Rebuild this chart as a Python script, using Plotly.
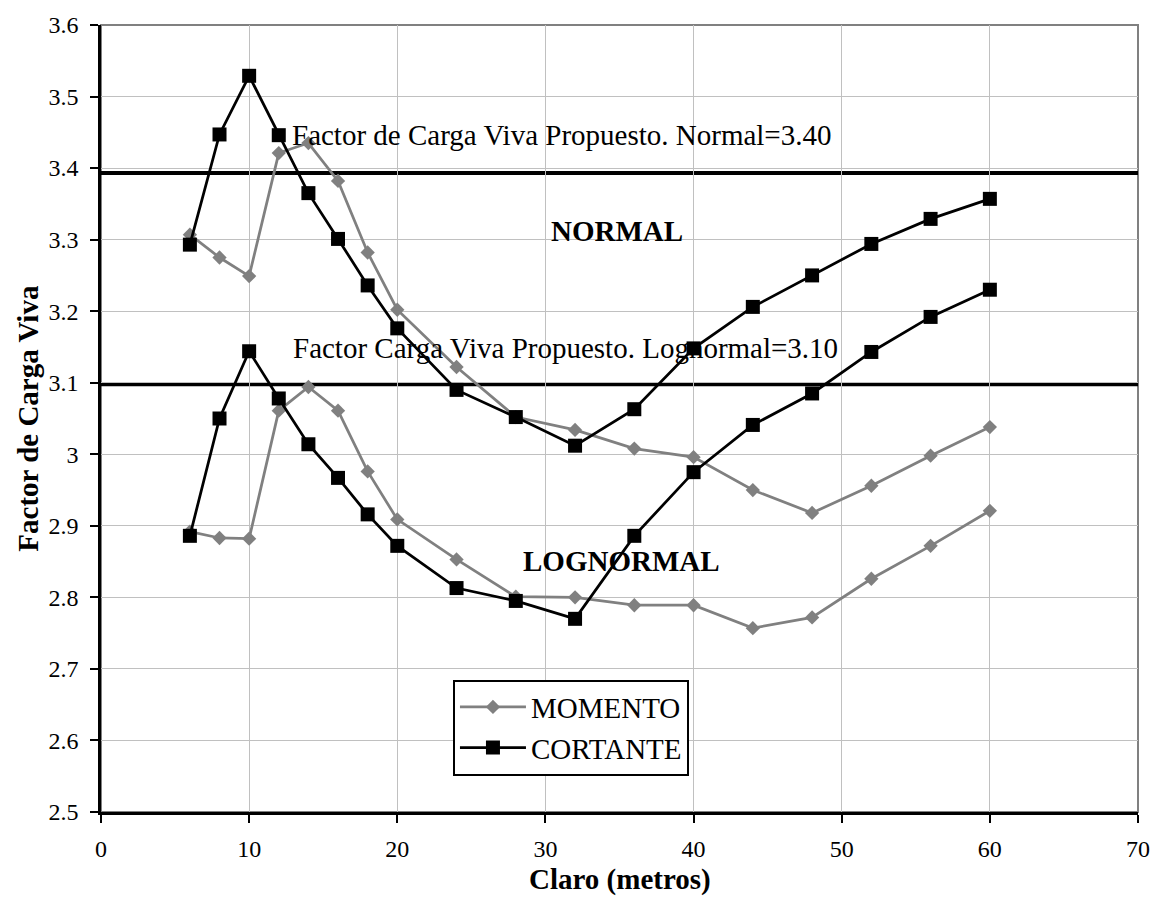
import plotly.graph_objects as go

# ---- data ----
claro = [6, 8, 10, 12, 14, 16, 18, 20, 24, 28, 32, 36, 40, 44, 48, 52, 56, 60]

momento_normal = [3.307, 3.275, 3.249, 3.421, 3.435, 3.382, 3.282, 3.202, 3.122,
                  3.052, 3.034, 3.008, 2.996, 2.950, 2.918, 2.956, 2.998, 3.038]
momento_lognormal = [2.892, 2.883, 2.882, 3.061, 3.094, 3.061, 2.976, 2.909, 2.853,
                     2.801, 2.800, 2.789, 2.789, 2.757, 2.772, 2.826, 2.872, 2.921]
cortante_normal = [3.293, 3.447, 3.529, 3.446, 3.365, 3.301, 3.236, 3.176, 3.090,
                   3.052, 3.012, 3.063, 3.148, 3.206, 3.250, 3.294, 3.329, 3.357]
cortante_lognormal = [2.886, 3.050, 3.144, 3.078, 3.014, 2.967, 2.916, 2.872, 2.813,
                      2.795, 2.770, 2.886, 2.975, 3.041, 3.085, 3.143, 3.192, 3.230]

factor_normal = 3.393
factor_lognormal = 3.098

x_ticks = [0, 10, 20, 30, 40, 50, 60, 70]
y_ticks = [2.5, 2.6, 2.7, 2.8, 2.9, 3.0, 3.1, 3.2, 3.3, 3.4, 3.5, 3.6]
y_ticktext = ["2.5", "2.6", "2.7", "2.8", "2.9", "3", "3.1", "3.2", "3.3", "3.4", "3.5", "3.6"]

FONT = "Liberation Serif, Times New Roman, serif"
GRAY = "#808080"

fig = go.Figure()

mom_style = dict(mode="lines+markers", line=dict(color=GRAY, width=2.75),
                 marker=dict(symbol="diamond", size=11, color=GRAY, line=dict(width=0)))
cor_style = dict(mode="lines+markers", line=dict(color="black", width=2.75),
                 marker=dict(symbol="square", size=14, color="black", line=dict(width=0)))

fig.add_trace(go.Scatter(x=claro, y=momento_normal, name="MOMENTO", **mom_style))
fig.add_trace(go.Scatter(x=claro, y=momento_lognormal, name="MOMENTO",
                         showlegend=False, **mom_style))
fig.add_trace(go.Scatter(x=claro, y=cortante_normal, name="CORTANTE", **cor_style))
fig.add_trace(go.Scatter(x=claro, y=cortante_lognormal, name="CORTANTE",
                         showlegend=False, **cor_style))

# plot border (top/right grey)
fig.add_shape(type="rect", xref="paper", yref="paper", x0=0, x1=1, y0=0, y1=1,
              line=dict(color=GRAY, width=2), layer="between")
# proposed factor lines
for val in (factor_normal, factor_lognormal):
    fig.add_shape(type="line", xref="paper", yref="y", x0=0, x1=1, y0=val, y1=val,
                  line=dict(color="black", width=4), layer="between")

ann_font = dict(family=FONT, size=29, color="black")
fig.add_annotation(x=12.75, y=3.4465, xref="x", yref="y", xanchor="left", yanchor="middle",
                   text="Factor de Carga Viva Propuesto. Normal=3.40", showarrow=False, font=ann_font)
fig.add_annotation(x=12.8, y=3.149, xref="x", yref="y", xanchor="left", yanchor="middle",
                   text="Factor Carga Viva Propuesto. Lognormal=3.10", showarrow=False, font=ann_font)
fig.add_annotation(x=34.8, y=3.312, xref="x", yref="y", xanchor="center", yanchor="middle",
                   text="<b>NORMAL</b>", showarrow=False, font=ann_font)
fig.add_annotation(x=35.15, y=2.851, xref="x", yref="y", xanchor="center", yanchor="middle",
                   text="<b>LOGNORMAL</b>", showarrow=False, font=ann_font)

# axis titles
fig.add_annotation(x=0.5, y=-0.086, xref="paper", yref="paper", xanchor="center", yanchor="middle",
                   text="<b>Claro (metros)</b>", showarrow=False, font=ann_font)
fig.add_annotation(x=-0.0712, y=0.5, xref="paper", yref="paper", xanchor="center", yanchor="middle",
                   text="<b>Factor de Carga Viva</b>", textangle=-90, showarrow=False, font=ann_font)

axis_common = dict(showgrid=True, gridcolor="#c0c0c0", gridwidth=1, zeroline=False,
                   showline=True, linecolor="black", linewidth=2.5,
                   ticks="outside", ticklen=8, tickwidth=2, tickcolor="black",
                   tickfont=dict(family=FONT, size=24, color="black"))

fig.update_xaxes(range=[0, 70], tickvals=x_ticks, ticklabelstandoff=5, **axis_common)
fig.update_yaxes(range=[2.5, 3.6], tickvals=y_ticks, ticktext=y_ticktext,
                 ticklabelstandoff=7, **axis_common)

fig.update_layout(
    width=1162, height=897,
    margin=dict(l=101, r=21, t=22, b=85),
    plot_bgcolor="white", paper_bgcolor="white",
    font=dict(family=FONT, color="black"),
    showlegend=True,
    legend=dict(x=0.3394, y=0.1683, xanchor="left", yanchor="top",
                bordercolor="black", borderwidth=2, bgcolor="white",
                font=dict(family=FONT, size=29, color="black"),
                itemwidth=66, tracegroupgap=0),
)

fig.write_html("out.html")
